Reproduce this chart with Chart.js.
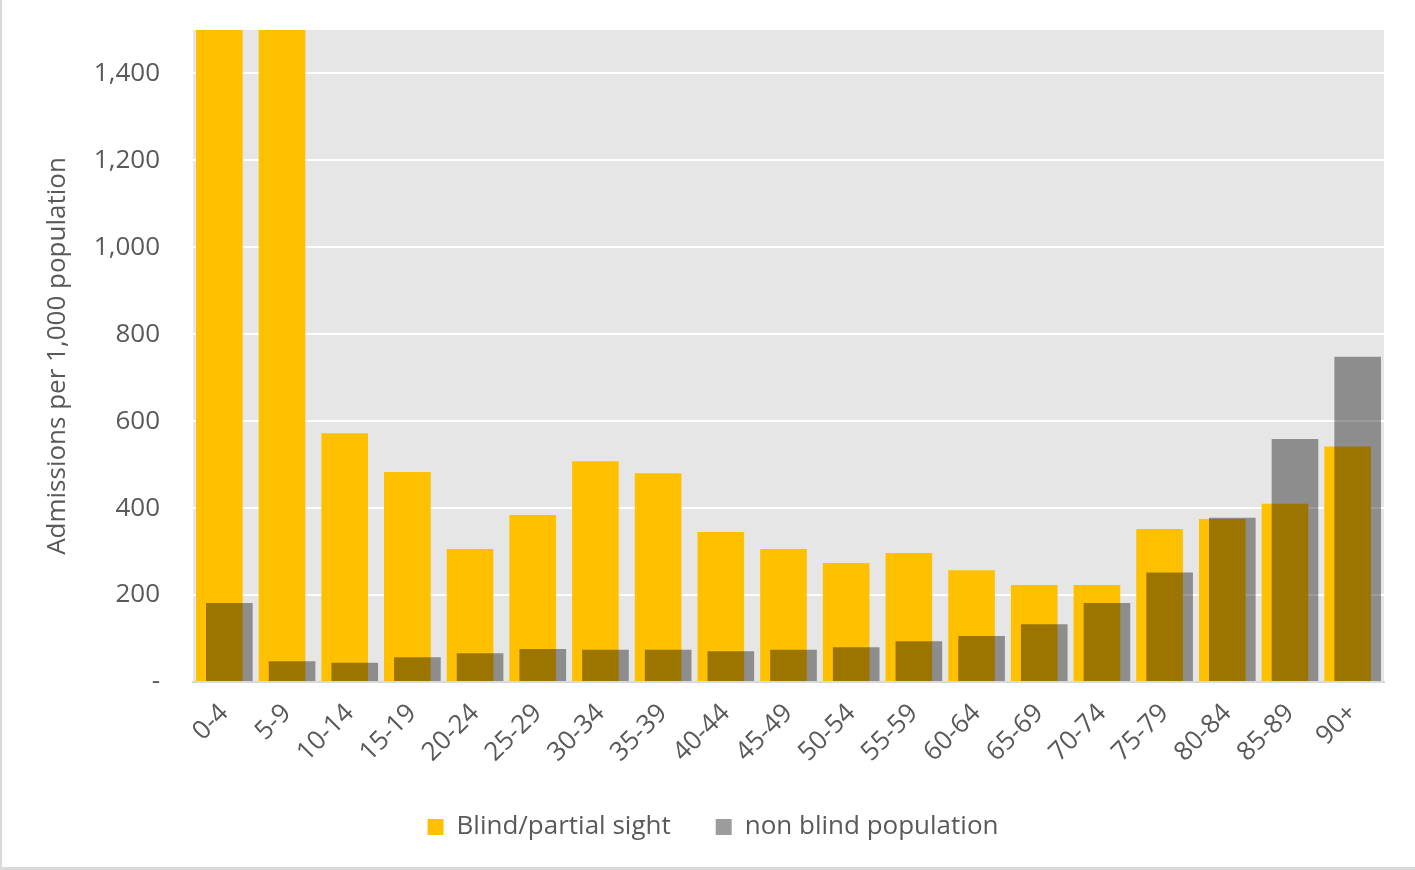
<!DOCTYPE html>
<html>
<head>
<meta charset="utf-8">
<script src="https://cdn.jsdelivr.net/npm/chart.js@4"></script>
<style>
  html, body { margin: 0; padding: 0; background: #fff; }
  #wrap { position: relative; width: 1415px; height: 870px; box-sizing: border-box;
          border-left: 2px solid #d9d9d9; border-bottom: 3px solid #d9d9d9; }
  canvas { display: block; }
</style>
</head>
<body>
<div id="wrap"><canvas id="chart" width="1413" height="867"></canvas></div>
<script>
const ageGroups = ['0-4','5-9','10-14','15-19','20-24','25-29','30-34','35-39','40-44','45-49',
                   '50-54','55-59','60-64','65-69','70-74','75-79','80-84','85-89','90+'];
// first two values run off the top of the axis in the original
const blindRates = [2000, 2000, 572, 483, 306, 384, 508, 480, 345, 306,
                    274, 297, 257, 223, 223, 352, 375, 410, 542];
const nonBlindRates = [182, 48, 44, 57, 66, 76, 74, 74, 71, 74,
                       80, 94, 106, 133, 182, 252, 378, 559, 748];
const yTicks = [0, 200, 400, 600, 800, 1000, 1200, 1400];

const textColor = '#595959';
const fontFamily = '"Open Sans", "Noto Sans", sans-serif';
const fontSize = 26;

// grey plot area, then yellow first and grey over it (clipped to the plot)
const plotArea = {
    id: 'plotArea',
    beforeDraw(chart) {
        const {ctx, chartArea: a} = chart;
        ctx.save();
        ctx.fillStyle = '#e6e6e6';
        ctx.fillRect(a.left, a.top, a.width, a.height);
        ctx.restore();
    },
    beforeDatasetsDraw(chart) {
        const {ctx, chartArea: a} = chart;
        ctx.save();
        ctx.beginPath();
        ctx.rect(a.left, a.top, a.width, a.height);
        ctx.clip();
        chart.getDatasetMeta(0).controller.draw();
        chart.getDatasetMeta(1).controller.draw();
        ctx.restore();
        return false;
    }
};

new Chart(document.getElementById('chart'), {
    type: 'bar',
    data: {
        labels: ageGroups,
        datasets: [{
            label: 'Blind/partial sight',
            data: blindRates,
            backgroundColor: '#ffc000'
        }, {
            label: 'non blind population',
            data: nonBlindRates,
            backgroundColor: 'rgba(0, 0, 0, 0.39)'
        }]
    },
    options: {
        responsive: false,
        animation: false,
        devicePixelRatio: 1,
        categoryPercentage: 0.32,
        barPercentage: 4.65,
        layout: { padding: { left: 40, right: 31, top: 30, bottom: 17 } },
        plugins: {
            tooltip: { enabled: false },
            legend: {
                position: 'bottom',
                labels: {
                    color: textColor,
                    font: { family: fontFamily, size: fontSize },
                    boxWidth: 16,
                    boxHeight: 16,
                    padding: 45
                }
            }
        },
        scales: {
            x: {
                grid: { display: false },
                border: { color: '#d9d9d9', width: 2 },
                ticks: {
                    color: textColor,
                    font: { family: fontFamily, size: fontSize },
                    minRotation: 45,
                    maxRotation: 45,
                    padding: 8
                },
                afterFit(scale) { scale.height = 87; }
            },
            y: {
                min: 0,
                max: 1500,
                afterBuildTicks(scale) { scale.ticks = yTicks.map(v => ({ value: v })); },
                grid: { color: '#ffffff', lineWidth: 2, drawTicks: false },
                border: { display: false },
                ticks: {
                    color: textColor,
                    font: { family: fontFamily, size: fontSize },
                    padding: 33,
                    callback: v => v === 0 ? '-' : v.toLocaleString('en-US')
                },
                title: {
                    display: true,
                    text: 'Admissions per 1,000 population',
                    color: textColor,
                    font: { family: fontFamily, size: fontSize },
                    padding: { top: 0, bottom: 0 }
                },
                afterFit(scale) {
                    scale.width = 151;
                    scale.paddingTop = 0;
                    scale.paddingBottom = 0;
                }
            }
        }
    },
    plugins: [plotArea]
});
</script>
</body>
</html>
